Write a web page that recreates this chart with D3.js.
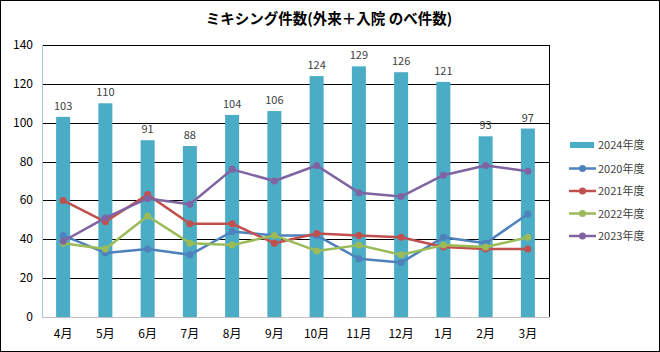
<!DOCTYPE html>
<html>
<head>
<meta charset="utf-8">
<script src="https://cdn.jsdelivr.net/npm/d3@7"></script>
<style>
body { margin: 0; background: #fff; }
text { font-family: "Noto Sans CJK JP", "Noto Sans", sans-serif; }
</style>
</head>
<body>
<div id="chart"></div>
<script>
var months = ["4月","5月","6月","7月","8月","9月","10月","11月","12月","1月","2月","3月"];
var bars2024 = [103,110,91,88,104,106,124,129,126,121,93,97];
var fy2020 = [42,33,35,32,44,42,42,30,28,41,38,53];
var fy2021 = [60,49,63,48,48,38,43,42,41,36,35,35];
var fy2022 = [38,35,52,38,37,42,34,37,32,37,36,41];
var fy2023 = [39,51,61,58,76,70,78,64,62,73,78,75];
var yTicks = [0,20,40,60,80,100,120,140];

var lines = [
    {name: "2020年度", values: fy2020, color: "#4F81BD"},
    {name: "2021年度", values: fy2021, color: "#C0504D"},
    {name: "2022年度", values: fy2022, color: "#9BBB59"},
    {name: "2023年度", values: fy2023, color: "#8064A2"}
];

var W = 660, H = 352;
var svg = d3.select("#chart").append("svg")
    .attr("width", W)
    .attr("height", H);

svg.append("rect")
    .attr("x", 0.5).attr("y", 0.5)
    .attr("width", W - 1).attr("height", H - 1)
    .attr("fill", "#fff").attr("stroke", "#000");

var pLeft = 42, pRight = 549, pTop = 45, pBottom = 317;

var x = d3.scaleBand().domain(months).range([pLeft, pRight]);
var y = d3.scaleLinear().domain([0, 140]).range([pBottom, pTop]);

// gridlines
svg.append("g").selectAll("line").data(yTicks.filter(function(d) { return d > 0; }))
    .enter().append("line")
    .attr("x1", pLeft).attr("x2", pRight)
    .attr("y1", function(d) { return Math.round(y(d)) + 0.5; })
    .attr("y2", function(d) { return Math.round(y(d)) + 0.5; })
    .attr("stroke", "#000").attr("stroke-width", 1);

// y labels
svg.append("g").selectAll("text").data(yTicks)
    .enter().append("text")
    .attr("x", 33).attr("y", function(d) { return y(d) + 4; })
    .attr("text-anchor", "end")
    .attr("font-size", 12).attr("fill", "#000")
    .text(function(d) { return d; });

// bars
var bw = 14;
svg.append("g").selectAll("rect").data(bars2024)
    .enter().append("rect")
    .attr("x", function(d, i) { return x(months[i]) + x.bandwidth() / 2 - bw / 2; })
    .attr("y", function(d) { return y(d); })
    .attr("width", bw)
    .attr("height", function(d) { return pBottom - y(d); })
    .attr("fill", "#4BACC6");

svg.append("g").selectAll("text").data(bars2024)
    .enter().append("text")
    .attr("x", function(d, i) { return x(months[i]) + x.bandwidth() / 2; })
    .attr("y", function(d) { return y(d) - 7; })
    .attr("text-anchor", "middle")
    .attr("font-size", 11).attr("fill", "#404040")
    .text(function(d) { return d; });

// axes
svg.append("line")
    .attr("x1", pLeft + 0.5).attr("x2", pLeft + 0.5)
    .attr("y1", pTop).attr("y2", pBottom)
    .attr("stroke", "#A9C6D3");
svg.append("line")
    .attr("x1", pLeft).attr("x2", pRight)
    .attr("y1", pBottom + 0.5).attr("y2", pBottom + 0.5)
    .attr("stroke", "#BFBFBF");
svg.append("line")
    .attr("x1", pRight + 0.5).attr("x2", pRight + 0.5)
    .attr("y1", pTop).attr("y2", pBottom)
    .attr("stroke", "#000");

// x labels
svg.append("g").selectAll("text").data(months)
    .enter().append("text")
    .attr("x", function(d) { return x(d) + x.bandwidth() / 2; })
    .attr("y", 338)
    .attr("text-anchor", "middle")
    .attr("font-size", 12).attr("fill", "#000")
    .text(function(d) { return d; });

// lines
var line = d3.line()
    .x(function(d, i) { return x(months[i]) + x.bandwidth() / 2; })
    .y(function(d) { return y(d); });

lines.forEach(function(s) {
    var g = svg.append("g");
    g.append("path")
        .attr("d", line(s.values))
        .attr("fill", "none")
        .attr("stroke", s.color)
        .attr("stroke-width", 2.5)
        .attr("stroke-linejoin", "round");
    g.selectAll("circle").data(s.values)
        .enter().append("circle")
        .attr("cx", function(d, i) { return x(months[i]) + x.bandwidth() / 2; })
        .attr("cy", function(d) { return y(d); })
        .attr("r", 3.5)
        .attr("fill", s.color);
});

// title
svg.append("text")
    .attr("x", 329).attr("y", 24)
    .attr("text-anchor", "middle")
    .attr("font-size", 14.5).attr("font-weight", "bold")
    .text("ミキシング件数(外来＋入院 のべ件数)");

// legend
var legend = svg.append("g");
legend.append("rect")
    .attr("x", 570).attr("y", 142)
    .attr("width", 24).attr("height", 6)
    .attr("fill", "#4BACC6");
legend.append("text")
    .attr("x", 598).attr("y", 149)
    .attr("font-size", 11).attr("fill", "#404040")
    .text("2024年度");
lines.forEach(function(s, i) {
    var ly = 168.5 + i * 22.5;
    legend.append("line")
        .attr("x1", 569).attr("x2", 596)
        .attr("y1", ly).attr("y2", ly)
        .attr("stroke", s.color).attr("stroke-width", 2.5);
    legend.append("circle")
        .attr("cx", 582.5).attr("cy", ly).attr("r", 3.5)
        .attr("fill", s.color);
    legend.append("text")
        .attr("x", 598).attr("y", ly + 4)
        .attr("font-size", 11).attr("fill", "#404040")
        .text(s.name);
});
</script>
</body>
</html>
